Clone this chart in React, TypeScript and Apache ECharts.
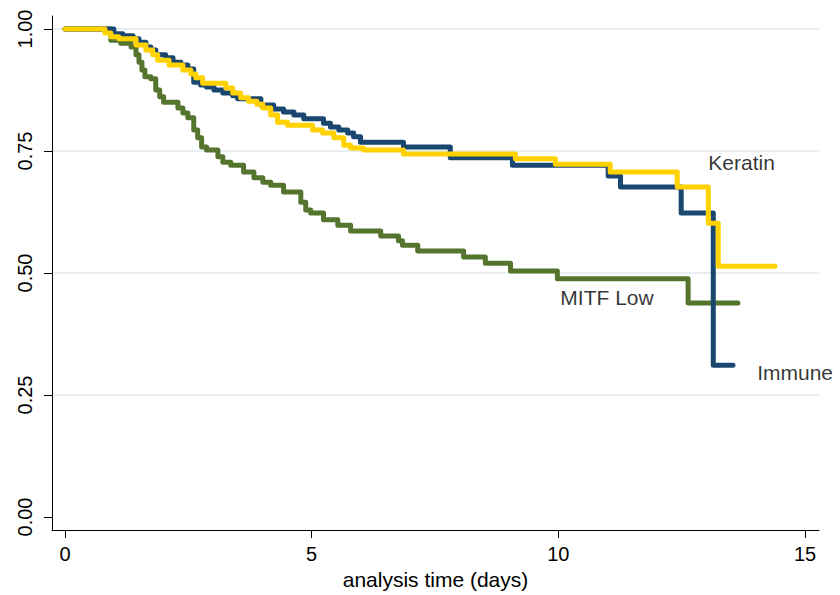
import React, { useEffect, useRef } from "react";
import * as echarts from "echarts";

// Kaplan-Meier step points: time (days) and survival from that time onwards
const immuneT = [0, 0.99, 1.17, 1.38, 1.5, 1.64, 1.74, 1.84, 2.04, 2.19, 2.35, 2.49, 2.61, 2.75, 2.87, 3.02, 3.2, 3.4, 3.5, 3.97, 4.23, 4.43, 4.64, 4.84, 5.24, 5.38, 5.55, 5.73, 5.85, 5.99, 6.86, 7.81, 9.07, 11.01, 11.26, 12.49, 13.14, 13.54];
const immuneS = [1, 0.99, 0.986, 0.98, 0.973, 0.963, 0.957, 0.947, 0.941, 0.932, 0.926, 0.918, 0.891, 0.885, 0.881, 0.875, 0.869, 0.863, 0.857, 0.844, 0.836, 0.83, 0.824, 0.816, 0.807, 0.799, 0.793, 0.787, 0.779, 0.768, 0.758, 0.736, 0.721, 0.699, 0.676, 0.623, 0.311, 0.311];

const keratinT = [0, 0.81, 0.93, 1.09, 1.44, 1.64, 1.78, 1.88, 2.11, 2.39, 2.55, 2.65, 2.79, 3.26, 3.4, 3.56, 3.72, 3.89, 4.01, 4.17, 4.31, 4.51, 5.02, 5.22, 5.45, 5.65, 5.79, 6.05, 6.86, 9.13, 9.94, 11.05, 12.41, 13.04, 13.24, 14.39];
const keratinS = [1, 0.992, 0.984, 0.98, 0.967, 0.957, 0.947, 0.936, 0.926, 0.916, 0.908, 0.9, 0.889, 0.879, 0.869, 0.859, 0.852, 0.846, 0.838, 0.824, 0.809, 0.803, 0.793, 0.787, 0.777, 0.762, 0.756, 0.752, 0.744, 0.734, 0.723, 0.707, 0.676, 0.602, 0.514, 0.514];

const mitfT = [0, 0.93, 1.13, 1.34, 1.44, 1.5, 1.56, 1.62, 1.74, 1.84, 1.92, 2.0, 2.29, 2.39, 2.49, 2.61, 2.69, 2.77, 2.87, 3.1, 3.2, 3.36, 3.62, 3.83, 4.01, 4.17, 4.43, 4.78, 4.88, 4.98, 5.24, 5.53, 5.79, 6.4, 6.76, 6.84, 7.15, 8.08, 8.52, 9.03, 9.98, 12.63, 13.64];
const mitfS = [1, 0.977, 0.971, 0.963, 0.947, 0.932, 0.916, 0.902, 0.898, 0.875, 0.861, 0.85, 0.838, 0.828, 0.818, 0.793, 0.777, 0.758, 0.752, 0.738, 0.727, 0.721, 0.707, 0.695, 0.686, 0.68, 0.666, 0.645, 0.629, 0.623, 0.609, 0.598, 0.586, 0.576, 0.566, 0.557, 0.545, 0.533, 0.52, 0.504, 0.488, 0.4385, 0.4385];

const xTicks = [0, 5, 10, 15];
const yTicks = [0, 0.25, 0.5, 0.75, 1];

// Curve labels: [time, survival, text]
const curveLabels: [number, number, string][] = [
  [13.04, 0.727, "Keratin"],
  [10.04, 0.449, "MITF Low"],
  [14.03, 0.297, "Immune"],
];

const xTitle = "analysis time (days)";

const FONT = "'Liberation Sans', Arial, Helvetica, sans-serif";

function pairs(t: number[], s: number[]) {
  return t.map((v, i) => [v, s[i]]);
}

export default function App() {
  const ref = useRef<HTMLDivElement>(null);
  useEffect(() => {
    if (!ref.current) return;
    document.body.style.margin = "0";
    const chart = echarts.init(ref.current, undefined, { renderer: "svg" });
    const lineSeries = (name: string, data: number[][], color: string) => ({
      name,
      type: "line",
      step: "end",
      data,
      showSymbol: false,
      symbol: "none",
      lineStyle: { color, width: 5, cap: "round", join: "round" },
      z: 2,
    });
    chart.setOption({
      animation: false,
      backgroundColor: "#ffffff",
      grid: { left: 52, top: 16, right: 21, bottom: 65 },
      xAxis: {
        type: "value",
        min: -0.263,
        max: 15.283,
        name: xTitle,
        nameLocation: "middle",
        nameGap: 37,
        nameTextStyle: { color: "#000", fontSize: 21, fontFamily: FONT },
        axisLine: { show: true, onZero: false, lineStyle: { color: "#000", width: 1 } },
        axisTick: { show: true, length: 8, customValues: xTicks, lineStyle: { color: "#000" } },
        axisLabel: { customValues: xTicks, color: "#000", fontSize: 20, fontFamily: FONT, margin: 14 },
        splitLine: { show: false },
      },
      yAxis: {
        type: "value",
        min: -0.0266,
        max: 1.0266,
        axisLine: { show: true, onZero: false, lineStyle: { color: "#000", width: 1 } },
        axisTick: { show: true, length: 8, customValues: yTicks, lineStyle: { color: "#000" } },
        axisLabel: {
          customValues: yTicks,
          rotate: 90,
          color: "#000",
          fontSize: 20,
          fontFamily: FONT,
          margin: 17,
          formatter: (v: number) => v.toFixed(2),
        },
        splitLine: {
          show: true,
          lineStyle: { color: ["rgba(0,0,0,0)", "#e8eff1", "#e8eff1", "#e8eff1", "#e8eff1"], width: 2 },
        },
      },
      series: [
        lineSeries("MITF Low", pairs(mitfT, mitfS), "#55752f"),
        lineSeries("Immune", pairs(immuneT, immuneS), "#1a476f"),
        lineSeries("Keratin", pairs(keratinT, keratinS), "#ffd200"),
        {
          name: "labels",
          type: "scatter",
          symbolSize: 0,
          data: curveLabels.map((d) => ({ value: [d[0], d[1]], name: d[2] })),
          label: {
            show: true,
            position: "right",
            distance: 0,
            formatter: (p: any) => p.name,
            color: "#000",
            fontSize: 21,
            fontFamily: FONT,
          },
          z: 5,
        },
      ],
    });
    return () => chart.dispose();
  }, []);
  return <div ref={ref} style={{ width: 840, height: 595 }} />;
}
